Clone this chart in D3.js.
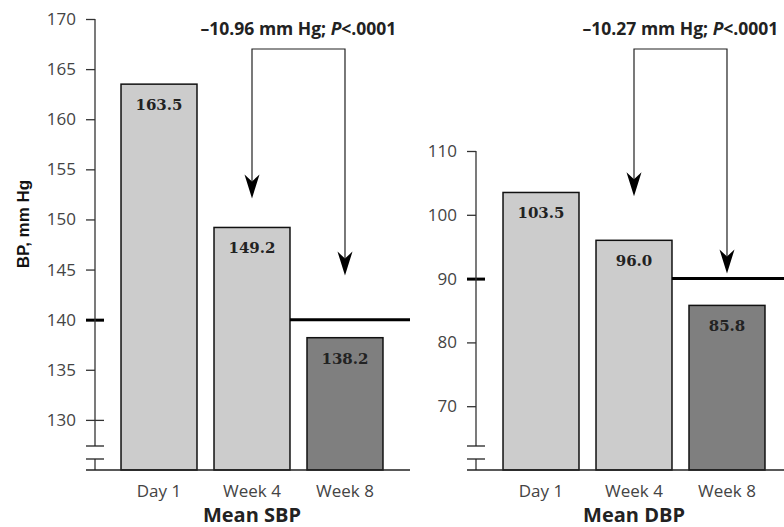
<!DOCTYPE html>
<html>
<head>
<meta charset="utf-8">
<script src="https://cdn.jsdelivr.net/npm/d3@7"></script>
<style>
  body { margin: 0; background: #fff; }
  svg { display: block; }
</style>
</head>
<body>
<div id="chart"></div>
<script>
// data
var periods = ["Day 1", "Week 4", "Week 8"];
var sbpValues = [163.5, 149.2, 138.2];
var dbpValues = [103.5, 96.0, 85.8];
var sbpTicks = [130, 135, 140, 145, 150, 155, 160, 165, 170];
var dbpTicks = [70, 80, 90, 100, 110];
var sbpGoal = 140;
var dbpGoal = 90;
var sbpChange = "–10.96 mm Hg; ";
var dbpChange = "–10.27 mm Hg; ";
var pText = ".0001";
// where the arrows end, in axis units
var sbpArrowTips = [152.1, 144.4];
var dbpArrowTips = [102.9, 90.8];
var barColors = ["#cccccc", "#cccccc", "#7f7f7f"];

var width = 784, height = 527;
var svg = d3.select("#chart").append("svg")
    .attr("width", width)
    .attr("height", height);

var baseY = 470, breakTop = 446, breakBottom = 459;

var panels = [
  { values: sbpValues, ticks: sbpTicks, domain: [125, 170], top: 19, axisX: 95,
    xRange: [104, 400], lineEnd: 410, goal: sbpGoal, crossTick: 130,
    title: "Mean SBP", change: sbpChange, tips: sbpArrowTips },
  { values: dbpValues, ticks: dbpTicks, domain: [60, 110], top: 151, axisX: 476,
    xRange: [486, 782], lineEnd: 784, goal: dbpGoal, crossTick: null,
    title: "Mean DBP", change: dbpChange, tips: dbpArrowTips }
];

panels.forEach(function(p) {
  var y = d3.scaleLinear().domain(p.domain).range([baseY, p.top]);
  var x = d3.scaleBand().domain(periods).range(p.xRange)
      .paddingInner(0.183).paddingOuter(0.183);
  var g = svg.append("g");

  // bars
  g.selectAll(".bar")
      .data(p.values)
      .enter().append("rect")
      .attr("x", function(d, i) { return x(periods[i]); })
      .attr("width", x.bandwidth())
      .attr("y", function(d) { return y(d); })
      .attr("height", function(d) { return baseY - y(d); })
      .attr("fill", function(d, i) { return barColors[i]; })
      .attr("stroke", "#111")
      .attr("stroke-width", 1.5);

  // value labels
  g.selectAll(".val")
      .data(p.values)
      .enter().append("text")
      .attr("x", function(d, i) { return x(periods[i]) + x.bandwidth() / 2; })
      .attr("y", function(d) { return y(d) + 26; })
      .attr("text-anchor", "middle")
      .attr("font-family", "DejaVu Serif")
      .attr("font-weight", "bold")
      .attr("font-size", 15)
      .attr("fill", "#222")
      .text(function(d) { return d.toFixed(1); });

  // goal line from week 4 bar to edge
  g.append("line")
      .attr("x1", x(periods[1]) + x.bandwidth())
      .attr("x2", p.lineEnd)
      .attr("y1", y(p.goal)).attr("y2", y(p.goal))
      .attr("stroke", "#000").attr("stroke-width", 3);

  // y axis
  var axis = g.append("g")
      .attr("transform", "translate(" + p.axisX + ",0)")
      .call(d3.axisLeft(y).tickValues(p.ticks).tickSize(9).tickPadding(10)
        .tickFormat(d3.format("d")));
  axis.select(".domain").remove();
  axis.selectAll(".tick line").attr("stroke", "#333").attr("stroke-width", 1.3);
  axis.selectAll(".tick text")
      .attr("font-family", "Open Sans")
      .attr("font-size", 17)
      .attr("fill", "#444");
  axis.selectAll(".tick").filter(function(d) { return d === p.goal; })
      .select("line").attr("x2", 9).attr("x1", -9)
      .attr("stroke", "#000").attr("stroke-width", 3);
  axis.selectAll(".tick").filter(function(d) { return d === p.crossTick; })
      .select("line").attr("x2", 9).attr("x1", -9);

  // axis line with break
  g.append("line")
      .attr("x1", p.axisX).attr("x2", p.axisX)
      .attr("y1", y(p.domain[1])).attr("y2", breakTop)
      .attr("stroke", "#333").attr("stroke-width", 1.3);
  g.append("line")
      .attr("x1", p.axisX).attr("x2", p.axisX)
      .attr("y1", breakBottom).attr("y2", baseY)
      .attr("stroke", "#333").attr("stroke-width", 1.3);
  [breakTop, breakBottom].forEach(function(by) {
    g.append("line")
        .attr("x1", p.axisX - 9).attr("x2", p.axisX + 9)
        .attr("y1", by).attr("y2", by)
        .attr("stroke", "#222").attr("stroke-width", 1.3);
  });

  // baseline
  g.append("line")
      .attr("x1", p.axisX - 9).attr("x2", p.lineEnd)
      .attr("y1", baseY).attr("y2", baseY)
      .attr("stroke", "#222").attr("stroke-width", 1.3);

  // category labels
  g.selectAll(".cat")
      .data(periods)
      .enter().append("text")
      .attr("x", function(d) { return x(d) + x.bandwidth() / 2; })
      .attr("y", 497)
      .attr("text-anchor", "middle")
      .attr("font-family", "Open Sans")
      .attr("font-size", 17)
      .attr("fill", "#444")
      .text(function(d) { return d; });

  g.append("text")
      .attr("x", x(periods[1]) + x.bandwidth() / 2)
      .attr("y", 522)
      .attr("text-anchor", "middle")
      .attr("font-family", "Open Sans")
      .attr("font-weight", "bold")
      .attr("font-size", 20)
      .attr("fill", "#222")
      .text(p.title);

  // bracket with arrows to week 4 and week 8
  var xa = x(periods[1]) + x.bandwidth() / 2;
  var xb = x(periods[2]) + x.bandwidth() / 2;
  var bracketY = 49;
  var ann = g.append("text")
      .attr("x", (xa + xb) / 2)
      .attr("y", 35)
      .attr("text-anchor", "middle")
      .attr("font-family", "Open Sans")
      .attr("font-weight", "bold")
      .attr("font-size", 17.5)
      .attr("fill", "#222");
  ann.append("tspan").text(p.change);
  ann.append("tspan").attr("font-style", "italic").text("P");
  ann.append("tspan").text("<" + pText);

  g.append("path")
      .attr("d", "M" + xa + "," + (y(p.tips[0]) - 17) + "V" + bracketY +
                 "H" + xb + "V" + (y(p.tips[1]) - 17))
      .attr("fill", "none")
      .attr("stroke", "#222")
      .attr("stroke-width", 1.2);

  [xa, xb].forEach(function(ax, i) {
    var ty = y(p.tips[i]);
    g.append("path")
        .attr("d", "M" + ax + "," + ty + "L" + (ax - 7.5) + "," + (ty - 24) +
                   "L" + ax + "," + (ty - 17) + "L" + (ax + 7.5) + "," + (ty - 24) + "Z")
        .attr("fill", "#000");
  });
});

// y axis title
svg.append("text")
    .attr("transform", "translate(29,224) rotate(-90)")
    .attr("text-anchor", "middle")
    .attr("font-family", "Liberation Sans")
    .attr("font-weight", "bold")
    .attr("font-size", 17)
    .attr("fill", "#111")
    .text("BP, mm Hg");
</script>
</body>
</html>
